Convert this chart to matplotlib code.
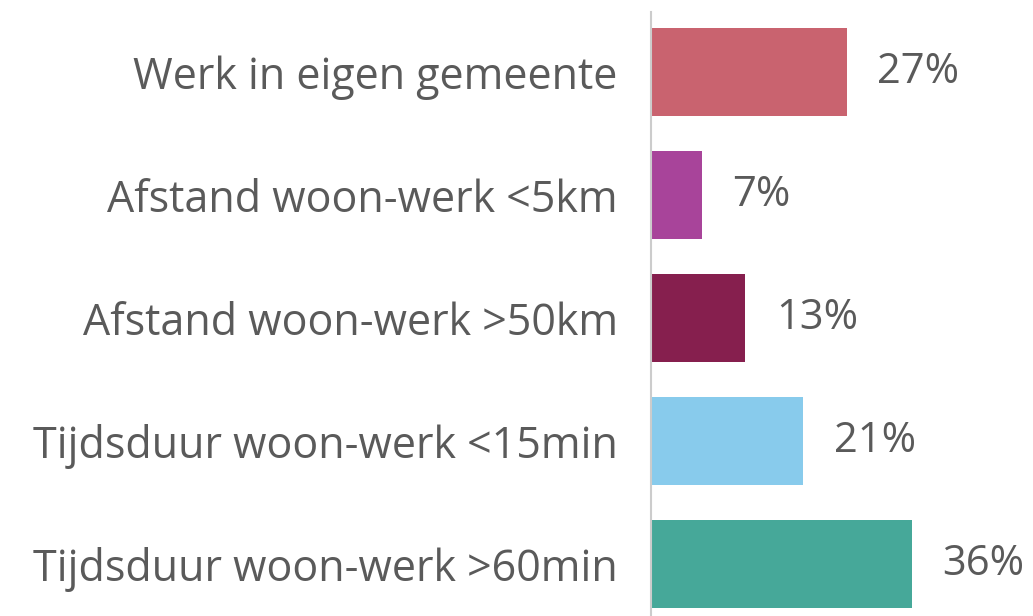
import matplotlib.pyplot as plt

labels = ['Werk in eigen gemeente', 'Afstand woon-werk <5km', 'Afstand woon-werk >50km',
          'Tijdsduur woon-werk <15min', 'Tijdsduur woon-werk >60min']
values = [27, 7, 13, 21, 36]
colors = ['#C9636F', '#A8449A', '#861F4E', '#88CBEC', '#46A899']

plt.rcParams['font.family'] = ['Open Sans', 'DejaVu Sans']

W, H = 1033, 616
fig = plt.figure(figsize=(W / 100, H / 100), dpi=100)
ax = fig.add_axes([651 / W, 0, 377 / W, (H - 12) / H])

pos = list(range(len(labels)))
ax.barh(pos, values, height=0.716, color=colors)
ax.set_xlim(0, 52)
ax.set_ylim(4.423, -0.488)

for p, v in zip(pos, values):
    ax.annotate(f'{v}%', (v, p), xytext=(22, 0), textcoords='offset points',
                va='center', ha='left', fontsize=30, color='#5a5a5a')

ax.set_yticks(pos)
ax.set_yticklabels(labels, fontsize=31, color='#5a5a5a')
ax.tick_params(axis='y', length=0, pad=24)
ax.set_xticks([])
for s in ['top', 'right', 'bottom']:
    ax.spines[s].set_visible(False)
ax.spines['left'].set_color('#CCCCCC')
ax.spines['left'].set_linewidth(1.5)

fig.savefig('out.png', dpi=100)
